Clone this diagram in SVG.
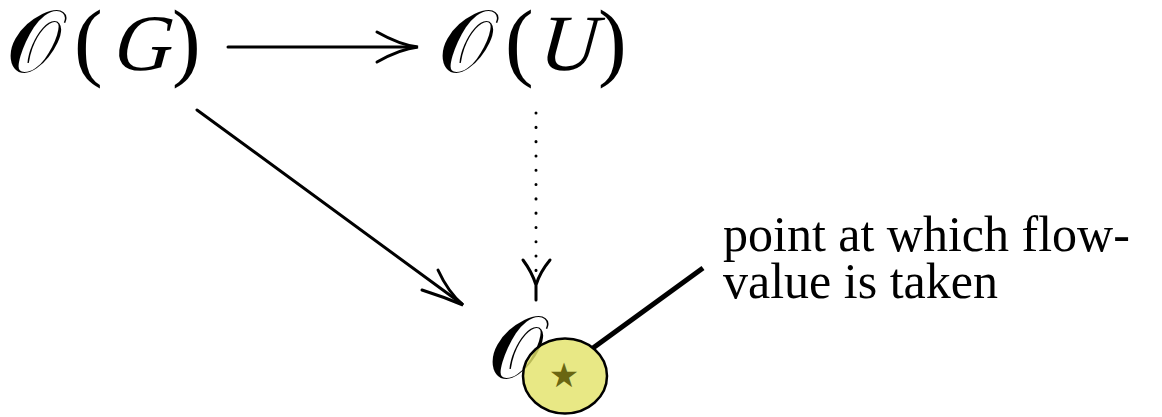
<svg xmlns="http://www.w3.org/2000/svg" width="1162" height="417" viewBox="0 0 1162 417">
<style>
.p{font-family:"Liberation Serif",serif;font-size:86px;fill:#000}
.v{font-family:"Liberation Serif",serif;font-size:80px;fill:#000}
.s{font-family:"DejaVu Serif","Liberation Serif",serif;font-size:88px;fill:#000}
.lbl{font-family:"Liberation Serif",serif;font-size:50px;fill:#000}
.ln{stroke:#000;stroke-width:3;fill:none;stroke-linecap:round}
</style>
<rect width="1162" height="417" fill="#fff"/>
<g id="nodeG">
<text class="s" x="6" y="72">𝒪</text>
<text class="p" x="74" y="70">(</text>
<text class="v" x="129" y="70" transform="skewX(-15)">G</text>
<text class="p" x="172" y="70">)</text>
</g>
<g id="nodeU">
<text class="s" x="438" y="72">𝒪</text>
<text class="p" x="505" y="70">(</text>
<text class="v" x="554" y="70" transform="skewX(-15)">U</text>
<text class="p" x="598" y="70">)</text>
</g>
<g id="nodeO"><text class="s" x="488" y="378">𝒪</text></g>
<g id="connectors">
<line class="ln" x1="228" y1="47" x2="416" y2="47"/>
<path class="ln" d="M377,32 Q400,45 418,47 Q400,49 377,62"/>
<line class="ln" x1="197" y1="110" x2="462" y2="304"/>
<path class="ln" d="M438,270 Q448,292 463,305 Q444,297 422,290"/>
<line x1="536" y1="113" x2="536" y2="272" stroke="#000" stroke-width="3" stroke-dasharray="0.1 14.2" stroke-linecap="round"/>
<path class="ln" d="M523,260 Q532,272 536,285 Q540,272 550,260 M536,285 L536,300"/>
</g>
<g id="callout">
<line x1="593" y1="348" x2="703" y2="268" stroke="#000" stroke-width="5"/>
<ellipse cx="565" cy="376" rx="42" ry="37.5" fill="#e3e36a" fill-opacity="0.82" stroke="#000" stroke-width="2.5"/>
<text x="564" y="387" font-family="DejaVu Sans,sans-serif" font-size="34" fill="#6a6612" text-anchor="middle">★</text>
<text class="lbl" x="723" y="251">point at which flow-</text>
<text class="lbl" x="723" y="298">value is taken</text>
</g>
</svg>
